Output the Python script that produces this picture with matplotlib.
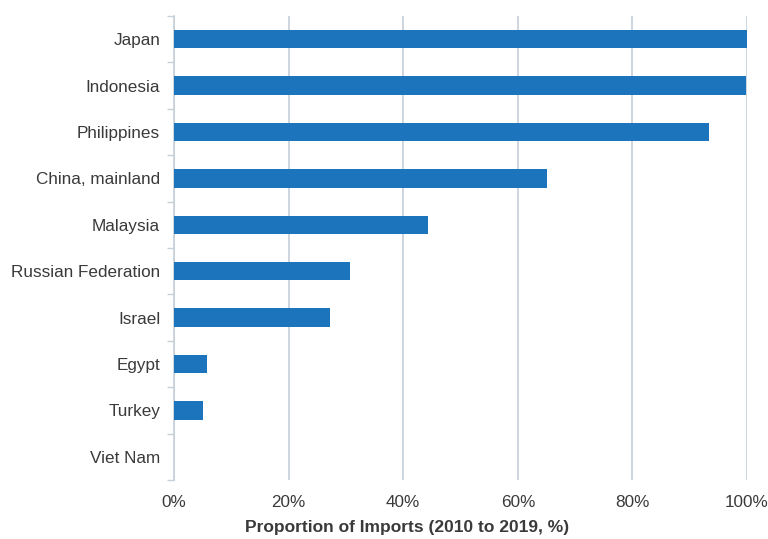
import matplotlib.pyplot as plt
import numpy as np

plt.rcParams['font.family'] = ['Liberation Sans', 'DejaVu Sans']

countries = ["Japan", "Indonesia", "Philippines", "China, mainland", "Malaysia",
             "Russian Federation", "Israel", "Egypt", "Turkey", "Viet Nam"]
shares = [100.0, 99.8, 93.4, 65.1, 44.3, 30.7, 27.2, 5.8, 5.1, 0.0]
xticks = [0, 20, 40, 60, 80, 100]

bar_color = "#1c75bc"
grid_color = "#c5d0d9"
text_color = "#3a3a3a"

fig = plt.figure(figsize=(7.68, 5.39), dpi=100)
ax = fig.add_axes([0.2266, 0.1095, 0.7461, 0.8608])

y = np.arange(len(countries))
ax.barh(y, shares, height=0.4, color=bar_color, linewidth=0, zorder=3)

ax.set_ylim(len(countries) - 0.5, -0.5)
ax.set_xlim(0, 100)
ax.set_yticks(y)
ax.set_yticklabels(countries)
ax.set_yticks(np.arange(-0.5, len(countries)), minor=True)
ax.tick_params(axis='y', which='major', length=0, pad=10, labelsize=12.3,
               labelcolor=text_color)
ax.tick_params(axis='y', which='minor', length=5, width=1, color=grid_color)

ax.set_xticks(xticks)
ax.set_xticklabels([f"{v}%" for v in xticks])
ax.tick_params(axis='x', length=0, pad=11, labelsize=12.3, labelcolor=text_color)
ax.xaxis.grid(True, color=grid_color, linewidth=1.2, zorder=0)

for side in ["top", "right", "bottom"]:
    ax.spines[side].set_visible(False)
ax.spines["left"].set_color(grid_color)
ax.spines["left"].set_linewidth(1.2)

ax.set_xlabel("Proportion of Imports (2010 to 2019, %)", fontsize=12.5,
              fontweight="bold", color=text_color, labelpad=7)
ax.xaxis.label.set_x(0.407)

fig.savefig("out.png", dpi=100)
